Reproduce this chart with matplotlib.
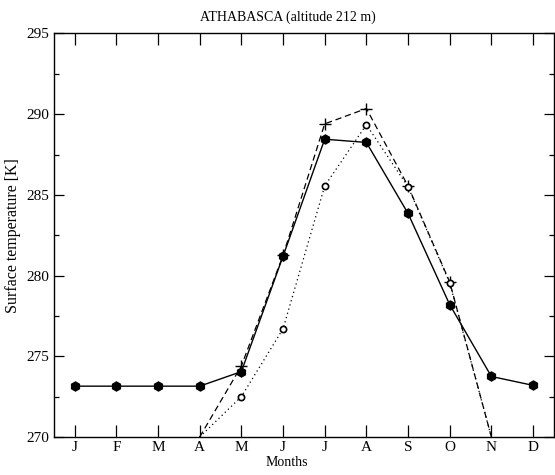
import numpy as np
import matplotlib
matplotlib.use("Agg")
import matplotlib.pyplot as plt
from matplotlib.ticker import MultipleLocator

plt.rcParams['font.family'] = ['Liberation Serif', 'DejaVu Serif']

months = ['J', 'F', 'M', 'A', 'M', 'J', 'J', 'A', 'S', 'O', 'N', 'D']
month_idx = np.arange(1, 13)

# solid line, filled markers (full year)
t_solid = [273.15, 273.15, 273.15, 273.15, 274.05, 281.2, 288.45, 288.25,
           283.85, 278.2, 273.75, 273.2]

# dashed line, plus markers (April to November)
idx_plus = np.arange(4, 12)
t_plus = [270.0, 274.4, 281.25, 289.4, 290.35, 285.55, 279.6, 270.0]

# dotted line, open circles (April to November)
idx_circ = np.arange(4, 12)
t_circ = [270.0, 272.5, 276.7, 285.55, 289.35, 285.5, 279.55, 270.0]

fig = plt.figure(figsize=(5.55, 4.75), dpi=100)
ax = fig.add_axes([0.097, 0.08, 0.901, 0.8495])

ax.plot(month_idx, t_solid, color='black', lw=1.0, ls='-',
        marker='h', ms=6.5, mfc='black', mec='black')
# end points sit on the axis floor, no marker drawn there
ax.plot(idx_plus, t_plus, color='black', lw=0.9, ls=(0, (5, 3)),
        marker='+', ms=9, mew=1.0, markevery=slice(1, -1))
ax.plot(idx_circ, t_circ, color='black', lw=0.9, ls=(0, (1, 2.5)),
        marker='o', ms=4.5, mfc='white', mec='black', mew=1.2,
        markevery=slice(1, -1))

ax.set_xlim(0.5, 12.5)
ax.set_ylim(270, 295)
ax.set_xticks(month_idx)
ax.set_xticklabels(months)
ax.yaxis.set_major_locator(MultipleLocator(5))
ax.yaxis.set_minor_locator(MultipleLocator(2.5))

ax.tick_params(axis='x', which='major', direction='in', top=True, bottom=True,
               length=8.5, width=0.9, labelsize=11, pad=3)
ax.tick_params(axis='y', which='major', direction='in', left=True, right=True,
               length=7, width=0.9, labelsize=11, pad=3)
ax.tick_params(axis='y', which='minor', direction='in', left=True, right=True,
               length=3.5, width=0.9)
for sp in ax.spines.values():
    sp.set_linewidth(1.0)

ax.set_title('ATHABASCA (altitude 212 m)', fontsize=10, pad=9, x=0.469)
ax.set_xlabel('Months', fontsize=10, labelpad=1, x=0.466)
ax.set_ylabel('Surface temperature [K]', fontsize=11.5, labelpad=4)

fig.savefig('out.png', dpi=100)
